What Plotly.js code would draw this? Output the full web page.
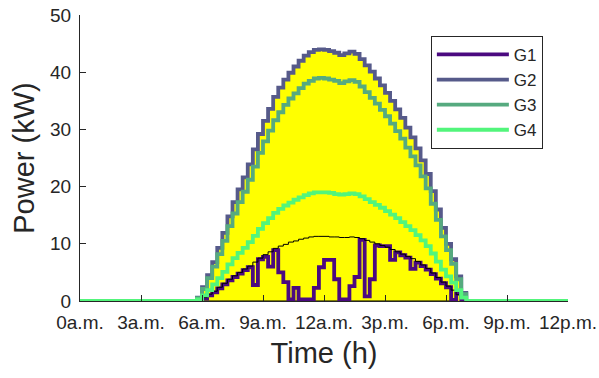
<!DOCTYPE html>
<html>
<head>
<meta charset="utf-8">
<script src="https://cdn.plot.ly/plotly-3.0.1.min.js"></script>
<style>html,body{margin:0;padding:0;background:#fff;}#chart{width:599px;height:378px;}</style>
</head>
<body>
<div id="chart"></div>
<script>
// time in hours (15-minute steps during daylight)
const time = [0,
  5.75, 6.0, 6.25, 6.5, 6.75, 7.0, 7.25, 7.5, 7.75, 8.0, 8.25,
  8.5, 8.75, 9.0, 9.25, 9.5, 9.75, 10.0, 10.25, 10.5, 10.75, 11.0,
  11.25, 11.5, 11.75, 12.0, 12.25, 12.5, 12.75, 13.0, 13.25, 13.5, 13.75,
  14.0, 14.25, 14.5, 14.75, 15.0, 15.25, 15.5, 15.75, 16.0, 16.25, 16.5,
  16.75, 17.0, 17.25, 17.5, 17.75, 18.0, 18.25, 18.5, 18.75,
  19.0, 24];

const G1 = [0,
  0.1, 0.4, 1.0, 1.5, 2.2, 2.9, 3.6, 4.2, 4.8, 5.4, 5.9,
  2.8, 7.3, 7.7, 6.0, 8.9, 5.0, 3.3, 0.3, 2.3, 0.3, 0.3,
  0.3, 2.3, 5.9, 7.2, 7.2, 3.8, 0.3, 0.3, 2.6, 4.2, 10.7,
  0.8, 3.8, 9.7, 9.6, 9.6, 7.2, 8.5, 8.0, 7.6, 5.6, 6.7,
  6.1, 5.5, 4.7, 3.9, 3.1, 2.4, 0.2, 1.3, 0,
  0, 0];

const G2 = [0,
  0.6, 2.4, 4.5, 6.8, 9.3, 11.9, 14.8, 17.3, 19.5, 21.6, 23.9,
  26.5, 29.2, 31.5, 33.6, 35.7, 37.3, 38.7, 39.9, 41.0, 42.0, 42.9,
  43.5, 43.9, 44.0, 43.9, 43.7, 43.4, 43.0, 43.3, 43.6, 43.2, 42.3,
  41.2, 40.1, 38.9, 37.7, 36.4, 35.0, 33.5, 32.0, 30.3, 28.6, 26.7,
  24.6, 22.2, 19.2, 16.0, 12.8, 10.0, 7.3, 4.3, 1.4,
  0, 0];

const G3 = [0,
  0.5, 2.1, 4.0, 6.0, 8.2, 10.5, 13.1, 15.3, 17.3, 19.1, 21.2,
  23.5, 25.9, 27.9, 29.8, 31.6, 33.0, 34.3, 35.4, 36.3, 37.2, 38.0,
  38.5, 38.9, 39.0, 38.9, 38.7, 38.5, 38.1, 38.4, 38.6, 38.3, 37.5,
  36.5, 35.5, 34.5, 33.4, 32.3, 31.0, 29.7, 28.4, 26.8, 25.3, 23.7,
  21.8, 19.7, 17.0, 14.2, 11.3, 8.9, 6.5, 3.8, 1.2,
  0, 0];

const G4 = [0,
  0.3, 1.0, 1.9, 2.9, 4.0, 5.1, 6.4, 7.5, 8.4, 9.3, 10.3,
  11.4, 12.6, 13.6, 14.5, 15.4, 16.1, 16.7, 17.2, 17.7, 18.1, 18.5,
  18.8, 19.0, 19.0, 19.0, 18.9, 18.7, 18.6, 18.7, 18.8, 18.7, 18.3,
  17.8, 17.3, 16.8, 16.3, 15.7, 15.1, 14.5, 13.8, 13.1, 12.4, 11.5,
  10.6, 9.6, 8.3, 6.9, 5.5, 4.3, 3.2, 1.9, 0.6,
  0, 0];

// thin black reference profile
const refLine = [0,
  0.15, 0.6, 1.2, 1.7, 2.4, 3.1, 3.8, 4.4, 5.0, 5.6, 6.1,
  6.8, 7.5, 8.1, 8.6, 9.2, 9.6, 9.9, 10.3, 10.5, 10.8, 11.0,
  11.2, 11.3, 11.3, 11.3, 11.2, 11.2, 11.1, 11.1, 11.2, 11.1, 10.9,
  10.6, 10.3, 10.0, 9.7, 9.4, 9.0, 8.6, 8.2, 7.8, 7.4, 6.9,
  6.3, 5.7, 4.9, 4.1, 3.3, 2.6, 1.9, 1.1, 0.4,
  0, 0];

const baseTime = [5.9, 18.6];
const baseVal = [0, 0];

const tickVals = [0, 3, 6, 9, 12, 15, 18, 21, 24];
const tickText = ['0a.m.', '3a.m.', '6a.m.', '9a.m.', '12a.m.', '3p.m.', '6p.m.', '9p.m.', '12p.m.'];

const names = ['G1', 'G2', 'G3', 'G4'];
const colors = ['#4b0a80', '#565a8a', '#56aa7f', '#52f57b'];
const series = [G1, G2, G3, G4];

const FONT = 'Liberation Sans, Arial, Helvetica, sans-serif';
const TXT = '#262626';

const traces = [];
traces.push({x: time, y: G2, type: 'scatter', mode: 'lines', line: {shape: 'hv', width: 0, color: '#ffff00'},
  fill: 'tozeroy', fillcolor: '#ffff00', showlegend: false, hoverinfo: 'skip'});
traces.push({x: baseTime, y: baseVal, type: 'scatter', mode: 'lines', line: {color: '#000000', width: 1.2},
  showlegend: false, hoverinfo: 'skip'});
for (let i = 0; i < 4; i++) {
  traces.push({x: time, y: series[i], type: 'scatter', mode: 'lines', name: names[i],
    line: {shape: 'hv', width: 3.8, color: colors[i]}});
  if (i === 0) {
    traces.push({x: time.slice(1, -2), y: refLine.slice(1, -2), type: 'scatter', mode: 'lines',
      line: {shape: 'hv', width: 1, color: '#000000'}, showlegend: false, hoverinfo: 'skip'});
  }
}
const layout = {
  width: 599, height: 378,
  margin: {l: 80, r: 31, t: 15, b: 77},
  paper_bgcolor: '#ffffff', plot_bgcolor: '#ffffff',
  font: {family: FONT, color: TXT, size: 19},
  showlegend: true,
  legend: {
    x: 0.719, y: 0.927, xanchor: 'left', yanchor: 'top',
    bgcolor: '#ffffff', bordercolor: '#262626', borderwidth: 1,
    font: {family: FONT, size: 17, color: TXT},
    itemwidth: 72, tracegroupgap: 0
  },
  xaxis: {
    range: [0, 24], tickvals: tickVals, ticktext: tickText,
    ticks: 'inside', ticklen: 6, tickwidth: 1, tickcolor: TXT,
    showline: true, linecolor: TXT, linewidth: 1, mirror: false,
    showgrid: false, zeroline: false,
    tickfont: {family: FONT, size: 19, color: TXT},
    ticklabelstandoff: 4,
    title: {text: 'Time (h)', font: {family: FONT, size: 29, color: TXT}, standoff: 10}
  },
  yaxis: {
    range: [0, 50], tickvals: [0, 10, 20, 30, 40, 50],
    ticks: 'inside', ticklen: 6, tickwidth: 1, tickcolor: TXT,
    showline: true, linecolor: TXT, linewidth: 1, mirror: false,
    showgrid: false, zeroline: false,
    tickfont: {family: FONT, size: 19, color: TXT},
    ticklabelstandoff: 4,
    title: {text: 'Power (kW)', font: {family: FONT, size: 29, color: TXT}, standoff: 6}
  }
};
Plotly.newPlot('chart', traces, layout, {displayModeBar: false, staticPlot: true});
</script>
</body>
</html>
